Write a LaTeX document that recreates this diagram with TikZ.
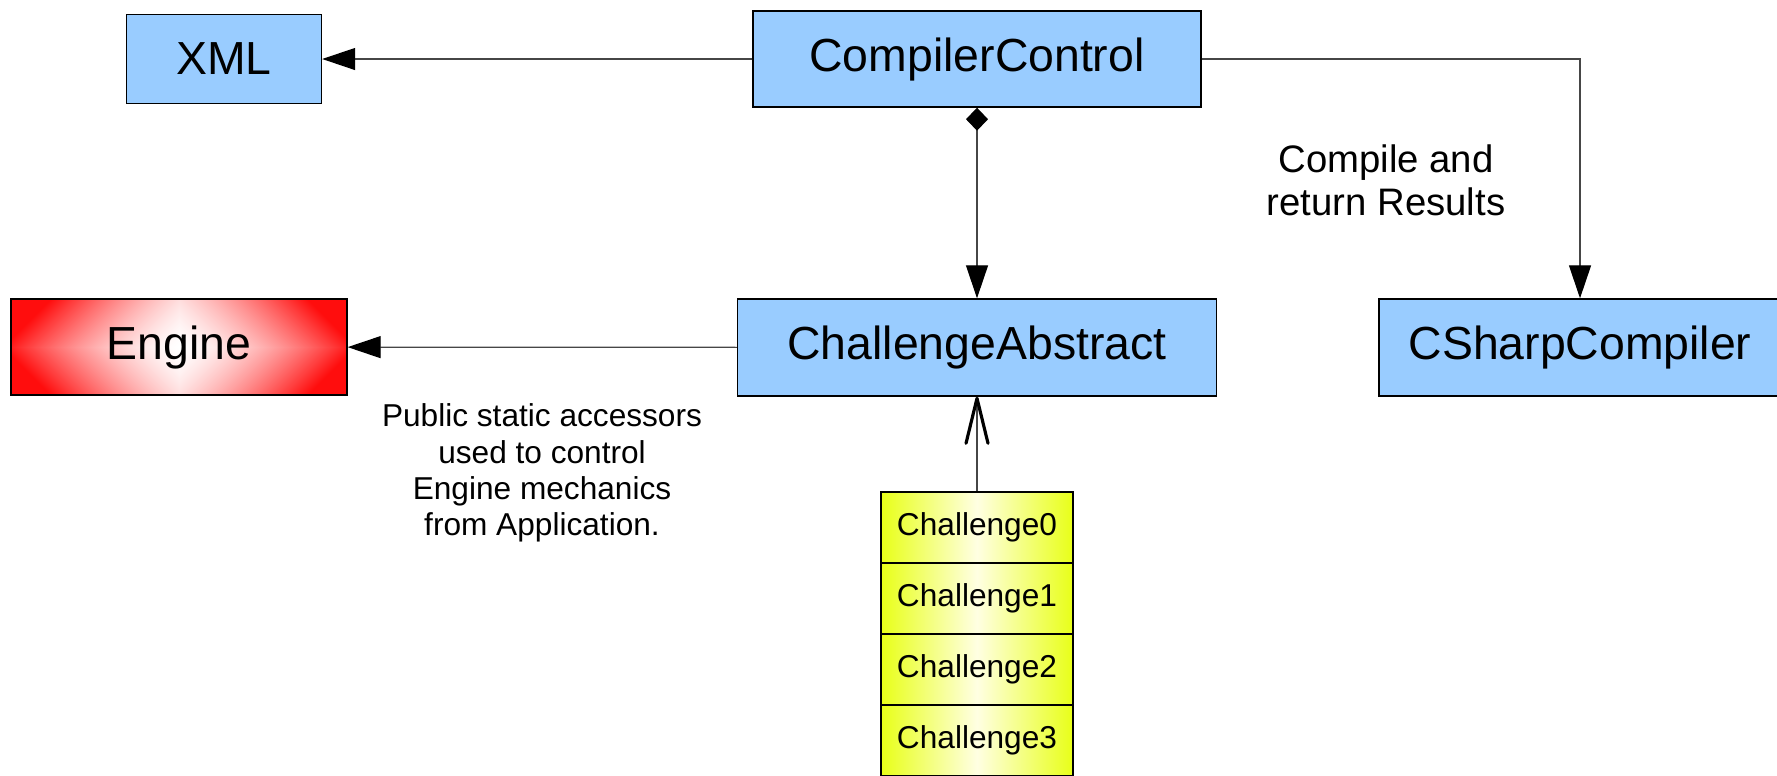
\documentclass[tikz,border=0pt]{standalone}
\usepackage{fontspec}
\setmainfont{Liberation Sans}
\usetikzlibrary{arrows.meta,positioning}
\definecolor{umlblue}{RGB}{153,204,255}
\definecolor{umllime}{RGB}{232,255,24}
\definecolor{umlpale}{RGB}{255,255,226}
\definecolor{umlline}{RGB}{70,70,70}
% diamond-shaped red-to-white fill for the engine box (aspect 3.5:1)
\pgfdeclarefunctionalshading{enginered}{\pgfpoint{-50bp}{-50bp}}{\pgfpoint{50bp}{50bp}}{}{
  abs exch abs 3.5 mul add 92 div dup 1 gt {pop 1} if dup sqrt mul 0.95 mul 1 exch sub dup 1 3 1 roll
}

\begin{document}
\begin{tikzpicture}[x=0.1mm,y=-0.1mm,
  classbox/.style={draw,fill=umlblue,line width=0.4pt,minimum height=9.7mm,font=\fontsize{13.2}{16}\selectfont},
  enginebox/.style={draw,shading=enginered,line width=0.4pt,minimum height=9.6mm,font=\fontsize{13.2}{16}\selectfont},
  challbox/.style={draw,line width=0.4pt,left color=umllime,right color=umllime,middle color=umlpale,minimum width=19.2mm,minimum height=7.1mm,font=\fontsize{9}{11}\selectfont},
  assoc/.style={draw=umlline,line width=0.35pt,-{Triangle[length=3.3mm,width=2.2mm,black]}}]
  \useasboundingbox (0,0) rectangle (1777,775);
  % Classes
  \node[classbox,minimum width=44.8mm,minimum height=9.6mm] (ctrl) at (977,59) {CompilerControl};
  \node[classbox,minimum width=19.5mm,minimum height=8.9mm] (xml) at (224,59) {XML};
  \node[classbox,minimum width=47.9mm] (chabs) at (977,347.5) {ChallengeAbstract};
  \node[classbox,minimum width=40.2mm] (csharp) at (1580,347.5) {CSharpCompiler};
  \node[enginebox,minimum width=33.6mm] (engine) at (179,347) {Engine};
  % Challenge stack
  \foreach \i in {0,...,3}
    \node[challbox] (ch\i) at (977,{527.5+71*\i}) {Challenge\i};
  % Notes
  \node[align=center,font=\fontsize{10.9}{12.2}\selectfont] (compnote) at (1386,180) {Compile and\\return Results};
  \node[align=center,font=\fontsize{9}{10.3}\selectfont] (accnote) at (542,473) {Public static accessors\\used to control\\Engine mechanics\\from Application.};
  % Arrows
  \draw[assoc] (ctrl) -- (xml);
  \draw[assoc] (ctrl.east) -| (csharp.north);
  \draw[assoc] (chabs) -- (engine);
  \draw[assoc,{Diamond[length=2.3mm,width=2.2mm,black]}-{Triangle[length=3.3mm,width=2.2mm,black]}] (ctrl) -- (chabs);
  \draw[draw=umlline,line width=0.35pt,-{Straight Barb[length=4.5mm,width=2.2mm,line width=0.9pt,round,black]}] (ch0) -- (chabs);
\end{tikzpicture}
\end{document}
